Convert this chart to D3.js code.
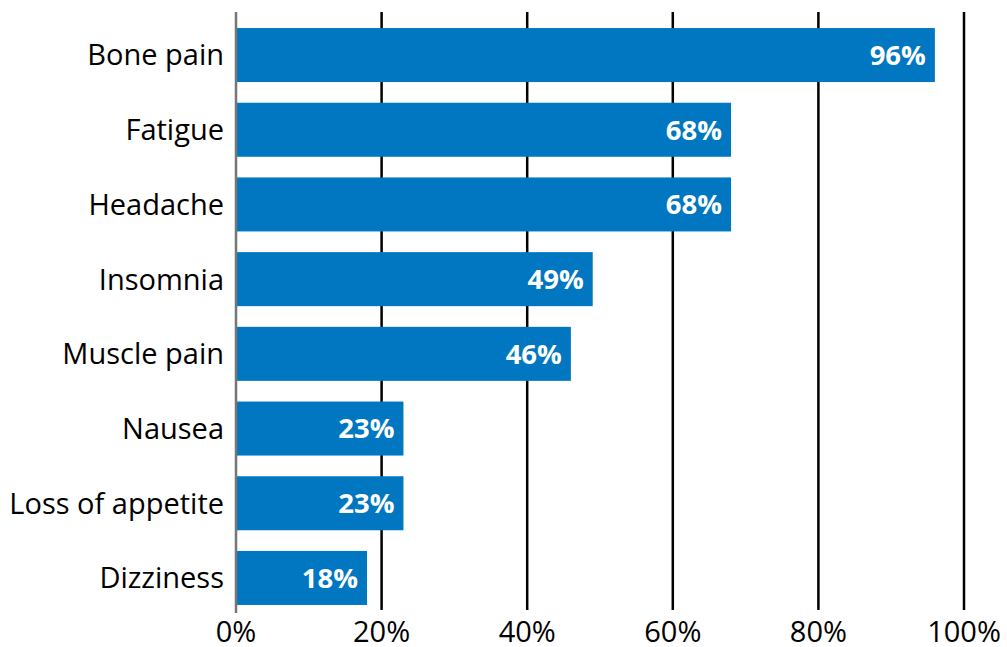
<!DOCTYPE html>
<html>
<head>
<meta charset="utf-8">
<script src="https://cdn.jsdelivr.net/npm/d3@7"></script>
<style>
  body { margin: 0; background: #fff; }
  text { font-family: "Open Sans", "Liberation Sans", sans-serif; }
</style>
</head>
<body>
<div id="chart"></div>
<script>
const categories = ['Bone pain', 'Fatigue', 'Headache', 'Insomnia', 'Muscle pain', 'Nausea', 'Loss of appetite', 'Dizziness']
const values = [96, 68, 68, 49, 46, 23, 23, 18]
const ticks = [0, 20, 40, 60, 80, 100]

const width = 1007, height = 647
const margin = { left: 236, right: 43, top: 12, bottom: 37 }

const svg = d3.select('#chart')
  .append('svg')
  .attr('width', width)
  .attr('height', height)

const x = d3.scaleLinear()
  .domain([0, 100])
  .range([margin.left, width - margin.right])

const y = d3.scaleBand()
  .domain(categories)
  .range([17.7, 615.3])
  .paddingInner(0.277)
  .paddingOuter(0.1385)

const data = categories.map((c, i) => ({ name: c, value: values[i] }))

// grid lines
svg.append('g')
  .selectAll('line')
  .data(ticks.filter(t => t > 0))
  .enter()
  .append('line')
  .attr('x1', d => x(d))
  .attr('x2', d => x(d))
  .attr('y1', margin.top)
  .attr('y2', height - margin.bottom)
  .attr('stroke', '#000')
  .attr('stroke-width', 2.5)

// bars
svg.append('g')
  .selectAll('rect')
  .data(data)
  .enter()
  .append('rect')
  .attr('x', x(0))
  .attr('y', d => y(d.name))
  .attr('width', d => x(d.value) - x(0))
  .attr('height', y.bandwidth())
  .attr('fill', '#0077c0')

// zero line
svg.append('line')
  .attr('x1', x(0))
  .attr('x2', x(0))
  .attr('y1', margin.top)
  .attr('y2', height - margin.bottom + 3)
  .attr('stroke', '#767676')
  .attr('stroke-width', 2.5)

// value labels
svg.append('g')
  .selectAll('text')
  .data(data)
  .enter()
  .append('text')
  .attr('x', d => x(d.value) - 9)
  .attr('y', d => y(d.name) + y.bandwidth() / 2)
  .attr('dy', '0.36em')
  .attr('text-anchor', 'end')
  .attr('fill', '#fff')
  .style('font-weight', 'bold')
  .style('font-size', '27.5px')
  .text(d => d.value + '%')

// category labels
svg.append('g')
  .selectAll('text')
  .data(categories)
  .enter()
  .append('text')
  .attr('x', x(0) - 12)
  .attr('y', d => y(d) + y.bandwidth() / 2)
  .attr('dy', '0.36em')
  .attr('text-anchor', 'end')
  .attr('fill', '#000')
  .style('font-size', '29px')
  .text(d => d)

// tick labels
svg.append('g')
  .selectAll('text')
  .data(ticks)
  .enter()
  .append('text')
  .attr('x', d => x(d))
  .attr('y', 642)
  .attr('text-anchor', 'middle')
  .attr('fill', '#000')
  .style('font-size', '29px')
  .text(d => d + '%')
</script>
</body>
</html>
